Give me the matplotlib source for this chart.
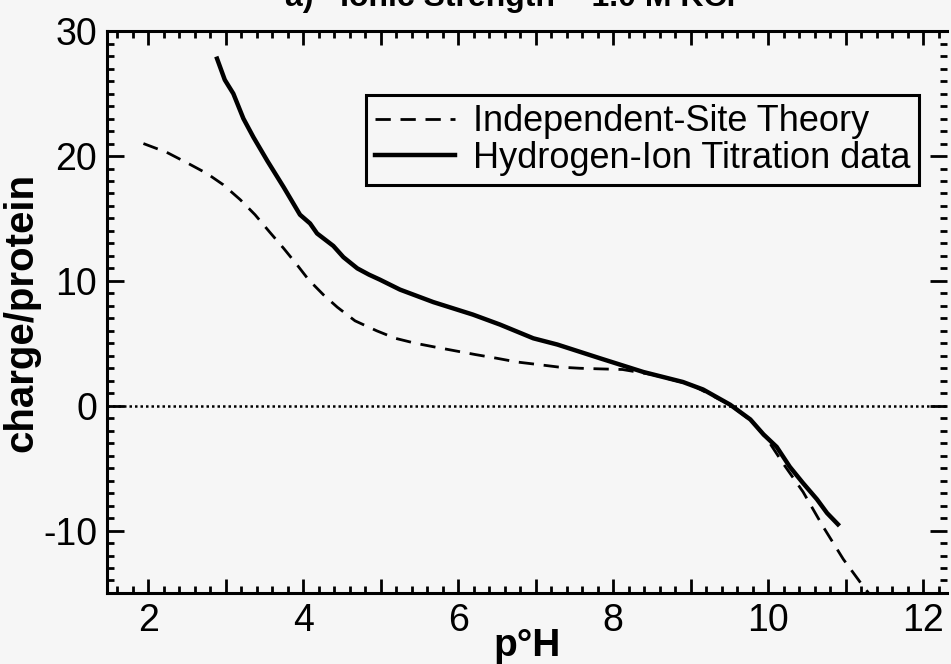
import numpy as np
import matplotlib.pyplot as plt
from matplotlib.ticker import MultipleLocator, FuncFormatter

plt.rcParams['font.family'] = ['Liberation Sans', 'DejaVu Sans']
plt.rcParams['axes.unicode_minus'] = False

# Independent-site theory (dashed)
theory_ph = [1.94, 2.24, 2.52, 2.76, 2.97, 3.19, 3.38, 3.57, 3.75, 3.92, 4.07, 4.26,
             4.44, 4.67, 4.95, 5.19, 5.45, 5.70, 5.96, 6.22, 6.50, 6.76, 7.03, 7.29,
             7.57, 7.83, 8.12, 8.50, 9.00, 9.50, 9.80, 10.00, 10.19, 10.45, 10.71,
             10.97, 11.23, 11.40]
theory_charge = [21.0, 20.3, 19.4, 18.6, 17.7, 16.5, 15.3, 13.9, 12.6, 11.3, 10.1, 8.9,
                 7.9, 6.8, 6.0, 5.4, 5.0, 4.7, 4.4, 4.1, 3.8, 3.5, 3.3, 3.1,
                 3.0, 2.95, 2.9, 2.5, 1.7, 0.1, -1.3, -2.8, -4.6, -6.9, -9.7,
                 -12.3, -14.5, -15.8]

# Hydrogen-ion titration data (solid)
titr_ph = [2.89, 2.99, 3.10, 3.23, 3.36, 3.54, 3.75, 3.96, 4.09, 4.18, 4.39, 4.52,
           4.70, 4.85, 4.99, 5.25, 5.68, 6.19, 6.54, 6.97, 7.28, 7.83, 8.39, 8.90,
           9.16, 9.51, 9.77, 9.94, 10.11, 10.28, 10.45, 10.63, 10.76, 10.90]
titr_charge = [27.8, 26.1, 25.0, 23.0, 21.5, 19.6, 17.5, 15.3, 14.6, 13.8, 12.8, 11.9,
               11.0, 10.5, 10.1, 9.3, 8.3, 7.3, 6.5, 5.4, 4.9, 3.8, 2.7, 1.9,
               1.3, 0.08, -1.1, -2.3, -3.3, -4.9, -6.2, -7.5, -8.6, -9.5]

fig = plt.figure(figsize=(9.51, 6.64), dpi=100, facecolor='#f6f6f6')
ax = fig.add_axes([0.1125, 0.107, 0.8835, 0.846])
ax.set_facecolor('#f6f6f6')

ax.axhline(0, color='black', linestyle=(0, (1, 1.2)), linewidth=1.8, zorder=1)
ax.plot(theory_ph, theory_charge, color='black', linewidth=2.0, dashes=(5.5, 3.5),
        label='Independent-Site Theory')
ax.plot(titr_ph, titr_charge, color='black', linewidth=3.2,
        label='Hydrogen-Ion Titration data')

ax.set_xlim(1.47, 12.31)
ax.set_ylim(-15, 30)

ax.xaxis.set_major_locator(MultipleLocator(1))
ax.xaxis.set_minor_locator(MultipleLocator(0.2))
ax.xaxis.set_major_formatter(FuncFormatter(lambda v, p: f'{int(round(v))}' if round(v) % 2 == 0 else ''))
ax.yaxis.set_major_locator(MultipleLocator(10))
ax.yaxis.set_minor_locator(MultipleLocator(1))

ax.tick_params(which='both', direction='in', top=True, right=True, width=2.0, labelsize=27, pad=7)
ax.tick_params(which='major', length=10)
ax.tick_params(which='minor', length=5)
ax.tick_params(axis='y', which='major', length=12)

for side in ['left', 'bottom', 'top']:
    ax.spines[side].set_linewidth(2.2)
ax.spines['right'].set_visible(False)

ax.set_xlabel('p°H', fontsize=28, fontweight='bold', labelpad=-8)
ax.set_ylabel('charge/protein', fontsize=29, fontweight='bold', labelpad=2)

leg = ax.legend(loc='upper right', bbox_to_anchor=(0.967, 0.886), borderaxespad=0,
                fontsize=26, fancybox=False, framealpha=1, edgecolor='black',
                facecolor='#f6f6f6', handlelength=2.2, handletextpad=0.5,
                borderpad=0.25, labelspacing=0.05)
leg.get_frame().set_linewidth(2.2)

fig.text(0.30, 1 - 6 / 664, 'a)   Ionic Strength = 1.0 M KCl', fontsize=23,
         fontweight='bold', va='baseline', ha='left')

fig.savefig('out.png', dpi=100, facecolor=fig.get_facecolor())
